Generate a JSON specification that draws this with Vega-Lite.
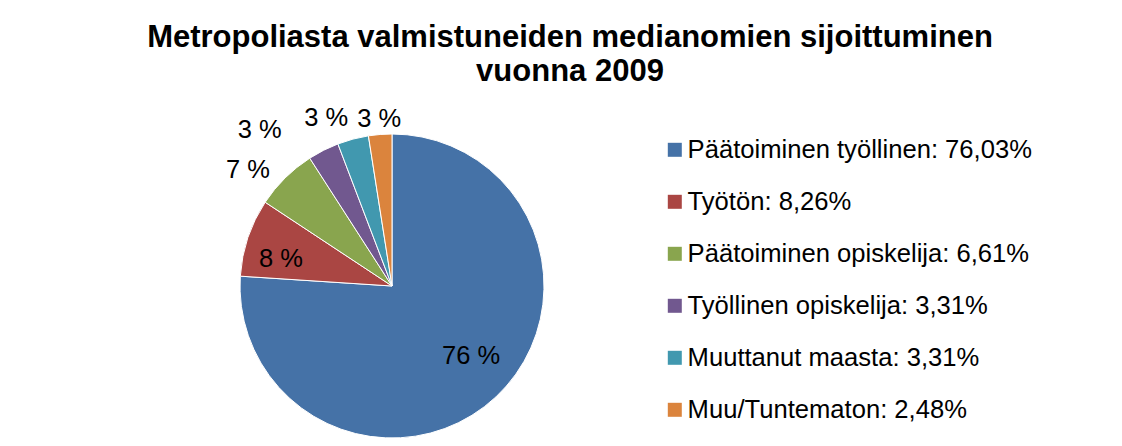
{
  "$schema": "https://vega.github.io/schema/vega-lite/v6.json",
  "width": 304,
  "height": 304,
  "autosize": {"type": "none"},
  "padding": {"left": 240, "top": 134, "right": 578, "bottom": 8},
  "background": "white",
  "config": {"view": {"stroke": null}, "font": "Liberation Sans"},
  "title": {
    "text": ["Metropoliasta valmistuneiden medianomien sijoittuminen", "vuonna 2009"],
    "font": "Liberation Sans",
    "fontSize": 31,
    "fontWeight": "bold",
    "color": "black",
    "anchor": "middle",
    "frame": "group",
    "dx": 178,
    "offset": 12,
    "lineHeight": 34
  },
  "data": {
    "values": [
      {"nimi": "Päätoiminen työllinen", "selite": "Päätoiminen työllinen: 76,03%", "osuus": 76.03, "merkki": "76 %", "jarjestys": 1},
      {"nimi": "Työtön", "selite": "Työtön: 8,26%", "osuus": 8.26, "merkki": "8 %", "jarjestys": 2},
      {"nimi": "Päätoiminen opiskelija", "selite": "Päätoiminen opiskelija: 6,61%", "osuus": 6.61, "merkki": "7 %", "jarjestys": 3},
      {"nimi": "Työllinen opiskelija", "selite": "Työllinen opiskelija: 3,31%", "osuus": 3.31, "merkki": "3 %", "jarjestys": 4},
      {"nimi": "Muuttanut maasta", "selite": "Muuttanut maasta: 3,31%", "osuus": 3.31, "merkki": "3 %", "jarjestys": 5},
      {"nimi": "Muu/Tuntematon", "selite": "Muu/Tuntematon: 2,48%", "osuus": 2.48, "merkki": "3 %", "jarjestys": 6}
    ]
  },
  "encoding": {
    "theta": {"field": "osuus", "type": "quantitative", "stack": true},
    "order": {"field": "jarjestys", "type": "quantitative"}
  },
  "layer": [
    {
      "mark": {"type": "arc", "stroke": "white", "strokeWidth": 1},
      "encoding": {
        "color": {
          "field": "selite",
          "type": "nominal",
          "sort": {"field": "jarjestys", "op": "min"},
          "scale": {"range": ["#4572A7", "#AA4643", "#89A54E", "#71588F", "#4198AF", "#DB843D"]},
          "legend": {
            "title": null,
            "orient": "none",
            "legendX": 422,
            "legendY": 3,
            "symbolType": "square",
            "symbolSize": 196,
            "symbolStrokeWidth": 0,
            "labelFont": "Liberation Sans",
            "labelFontSize": 25.6,
            "labelColor": "black",
            "labelOffset": 0,
            "rowPadding": 25,
            "labelLimit": 600
          }
        }
      }
    },
    {
      "mark": {"type": "text", "radius": 104, "dx": 8, "dy": -6, "fontSize": 25.5, "font": "Liberation Sans"},
      "encoding": {
        "color": {"value": "black"},
        "text": {"condition": {"test": "datum.jarjestys == 1", "field": "merkki"}, "value": ""}
      }
    },
    {
      "mark": {"type": "text", "radius": 115, "dx": -2, "dy": 10, "fontSize": 25.5, "font": "Liberation Sans"},
      "encoding": {
        "color": {"value": "black"},
        "text": {"condition": {"test": "datum.jarjestys == 2", "field": "merkki"}, "value": ""}
      }
    },
    {
      "mark": {"type": "text", "radius": 178, "dx": -19, "dy": 11, "fontSize": 25.5, "font": "Liberation Sans"},
      "encoding": {
        "color": {"value": "black"},
        "text": {"condition": {"test": "datum.jarjestys == 3", "field": "merkki"}, "value": ""}
      }
    },
    {
      "mark": {"type": "text", "radius": 178, "dx": -52, "dy": 3, "fontSize": 25.5, "font": "Liberation Sans"},
      "encoding": {
        "color": {"value": "black"},
        "text": {"condition": {"test": "datum.jarjestys == 4", "field": "merkki"}, "value": ""}
      }
    },
    {
      "mark": {"type": "text", "radius": 178, "dx": -20, "dy": 4, "fontSize": 25.5, "font": "Liberation Sans"},
      "encoding": {
        "color": {"value": "black"},
        "text": {"condition": {"test": "datum.jarjestys == 5", "field": "merkki"}, "value": ""}
      }
    },
    {
      "mark": {"type": "text", "radius": 178, "dx": 1, "dy": 10, "fontSize": 25.5, "font": "Liberation Sans"},
      "encoding": {
        "color": {"value": "black"},
        "text": {"condition": {"test": "datum.jarjestys == 6", "field": "merkki"}, "value": ""}
      }
    }
  ]
}
